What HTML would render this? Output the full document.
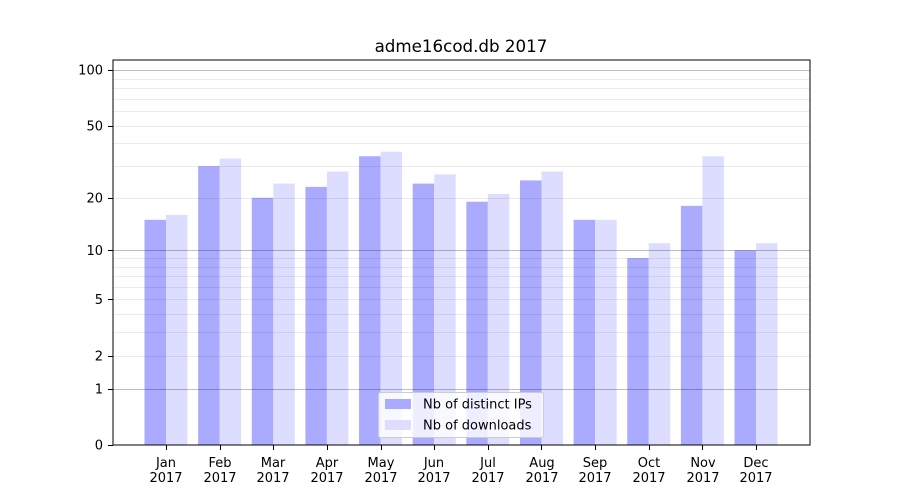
<!DOCTYPE html>
<html><head><meta charset="utf-8"><style>
body{margin:0;background:#fff}
svg{display:block;font-family:"DejaVu Sans","Liberation Sans",sans-serif}
</style></head><body>
<svg id="s" width="900" height="500" xmlns="http://www.w3.org/2000/svg">
<rect width="900" height="500" fill="#fff"/>
<g id="bars"></g>
<g id="grid"></g>
<rect x="113" y="60" width="697" height="385" fill="none" stroke="#000" stroke-width="1"/>
<text x="461" y="52" font-size="16.7" text-anchor="middle">adme16cod.db 2017</text>
<g font-size="13" text-anchor="end">
<text x="103" y="449.5">0</text>
<text x="103" y="393.5">1</text>
<text x="103" y="360.5">2</text>
<text x="103" y="304">5</text>
<text x="103" y="255">10</text>
<text x="103" y="202.5">20</text>
<text x="103" y="130.5">50</text>
<text x="103" y="74.5">100</text>
</g>
<g id="yt" stroke="#000"></g>
<g id="xt" stroke="#000"></g>
<g font-size="13" text-anchor="middle">
<text x="166" y="467">Jan</text><text x="166" y="482">2017</text>
<text x="220" y="467">Feb</text><text x="220" y="482">2017</text>
<text x="273" y="467">Mar</text><text x="273" y="482">2017</text>
<text x="327" y="467">Apr</text><text x="327" y="482">2017</text>
<text x="381" y="467">May</text><text x="381" y="482">2017</text>
<text x="434" y="467">Jun</text><text x="434" y="482">2017</text>
<text x="488" y="467">Jul</text><text x="488" y="482">2017</text>
<text x="542" y="467">Aug</text><text x="542" y="482">2017</text>
<text x="595" y="467">Sep</text><text x="595" y="482">2017</text>
<text x="649" y="467">Oct</text><text x="649" y="482">2017</text>
<text x="703" y="467">Nov</text><text x="703" y="482">2017</text>
<text x="756" y="467">Dec</text><text x="756" y="482">2017</text>
</g>
<rect x="378.5" y="392.5" width="165" height="45" rx="2" fill="#fff" fill-opacity="0.8" stroke="#ccc"/>
<rect x="385" y="399" width="26" height="10" fill="#aaaaff"/>
<rect x="385" y="420" width="26" height="10" fill="#ddddff"/>
<g font-size="13"><text x="423" y="408.5">Nb of distinct IPs</text><text x="423" y="429.5">Nb of downloads</text></g>
</svg>
<script>
var NS="http://www.w3.org/2000/svg";
function y(v){return 445-187*Math.log10(v+1);}
function el(p,t,a){var e=document.createElementNS(NS,t);for(var k in a)e.setAttribute(k,a[k]);p.appendChild(e);}
var ips=[15,30,20,23,34,24,19,25,15,9,18,10],dl=[16,33,24,28,36,27,21,28,15,11,34,11];
var B=document.getElementById('bars');
for(var i=0;i<12;i++){var c=166+i*53.64;
el(B,'rect',{x:c-21.5,y:y(ips[i]),width:21.5,height:445-y(ips[i]),fill:'#aaaaff'});
el(B,'rect',{x:c,y:y(dl[i]),width:21.5,height:445-y(dl[i]),fill:'#ddddff'});}
var G=document.getElementById('grid');
[2,3,4,5,6,7,8,9,20,30,40,50,60,70,80,90].forEach(function(v){var yy=Math.round(y(v))+0.5;el(G,'line',{x1:113,x2:810,y1:yy,y2:yy,stroke:'rgba(0,0,0,0.08)','stroke-width':1});});
[1,10,100].forEach(function(v){var yy=Math.round(y(v))+0.5;el(G,'line',{x1:113,x2:810,y1:yy,y2:yy,stroke:'rgba(0,0,0,0.25)','stroke-width':1});});
var YT=document.getElementById('yt');
[0,1,2,5,10,20,50,100].forEach(function(v){var yy=Math.round(y(v))+0.5;el(YT,'line',{x1:108,x2:113,y1:yy,y2:yy});});
var XT=document.getElementById('xt');
for(var i=0;i<12;i++){var x=Math.round(166+i*53.64)+0.5;el(XT,'line',{x1:x,x2:x,y1:445,y2:450});}
</script>
</body></html>
